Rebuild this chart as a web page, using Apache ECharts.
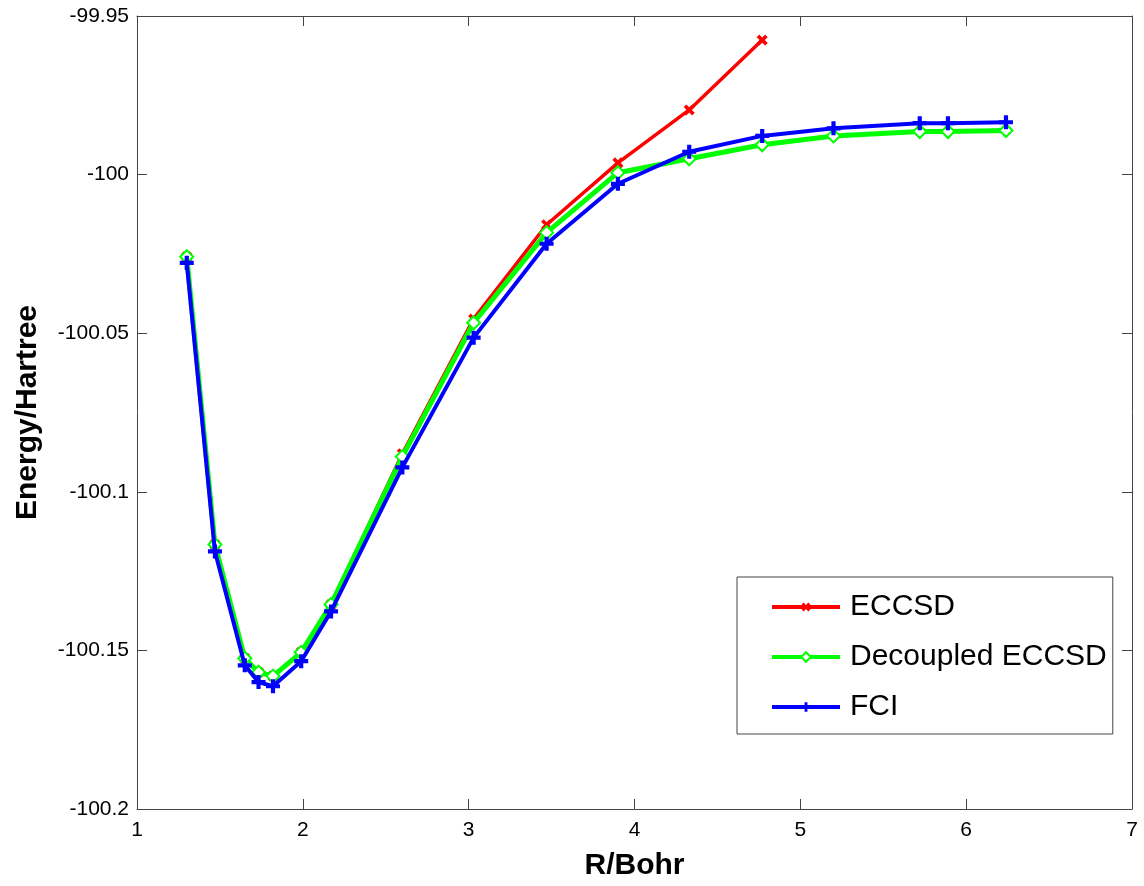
<!DOCTYPE html>
<html>
<head>
<meta charset="utf-8">
<script src="https://cdn.jsdelivr.net/npm/echarts@6/dist/echarts.min.js"></script>
<style>
  html, body { margin: 0; padding: 0; background: #fff; }
  #chart { width: 1144px; height: 886px; }
</style>
</head>
<body>
<div id="chart"></div>
<script>
// Bond distances (Bohr)
const rBohr = [1.30, 1.47, 1.65, 1.733, 1.82, 1.99, 2.17, 2.60, 3.03, 3.47, 3.90, 4.33, 4.77, 5.20, 5.72, 5.89, 6.24];
// ECCSD (first 13 distances only)
const eccsd = [-100.0259, -100.1166, -100.1525, -100.1569, -100.1581, -100.1506, -100.1355, -100.0880, -100.0455, -100.0158, -99.9963, -99.9796, -99.9576];
// Decoupled ECCSD
const decoupled = [-100.0259, -100.1166, -100.1525, -100.1569, -100.1581, -100.1506, -100.1355, -100.0889, -100.0467, -100.0183, -99.9994, -99.9950, -99.9906, -99.9878, -99.9864, -99.9864, -99.9861];
// FCI
const fci = [-100.0278, -100.1188, -100.1547, -100.1600, -100.1613, -100.1534, -100.1377, -100.0923, -100.0514, -100.0218, -100.0029, -99.9928, -99.9878, -99.9854, -99.9838, -99.9838, -99.9835];

const seriesNames = ['ECCSD', 'Decoupled ECCSD', 'FCI'];
const xTicks = { min: 1, max: 7, interval: 1 };
const yTicks = { min: -100.2, max: -99.95, interval: 0.05 };

function pairs(xs, ys) { return ys.map((y, i) => [xs[i], y]); }

const plusPath = 'path://M3.5,0H6.5V3.5H10V6.5H6.5V10H3.5V6.5H0V3.5H3.5Z';
const axisColor = '#444';
const fontFam = '"Liberation Sans", Arial, Helvetica, sans-serif';

const chart = echarts.init(document.getElementById('chart'));
chart.setOption({
  animation: false,
  backgroundColor: '#fff',
  grid: { left: 137, right: 12, top: 16, bottom: 76, containLabel: false },
  legend: {
    orient: 'vertical',
    left: 737, top: 577,
    padding: [15, 6, 12, 33],
    itemWidth: 68, itemHeight: 12, itemGap: 20,
    backgroundColor: '#fff',
    borderColor: '#444', borderWidth: 1,
    data: seriesNames,
    lineStyle: { width: 4 },
    textStyle: { fontFamily: fontFam, fontSize: 30, color: '#000', lineHeight: 30, padding: [0, 0, 0, 5] }
  },
  xAxis: [{
    type: 'value', position: 'bottom', min: xTicks.min, max: xTicks.max, interval: xTicks.interval,
    name: 'R/Bohr', nameLocation: 'middle', nameGap: 42,
    nameTextStyle: { fontFamily: fontFam, fontSize: 30, fontWeight: 'bold', color: '#000' },
    axisLine: { lineStyle: { color: axisColor, width: 1 } },
    axisTick: { inside: true, length: 10, lineStyle: { color: axisColor } },
    axisLabel: { fontFamily: fontFam, fontSize: 21, color: '#000', margin: 11 },
    splitLine: { show: false }
  }, {
    type: 'value', position: 'top', min: xTicks.min, max: xTicks.max, interval: xTicks.interval,
    axisLine: { lineStyle: { color: axisColor, width: 1 } },
    axisTick: { inside: true, length: 10, lineStyle: { color: axisColor } },
    axisLabel: { show: false },
    splitLine: { show: false }
  }],
  yAxis: [{
    type: 'value', position: 'left', min: yTicks.min, max: yTicks.max, interval: yTicks.interval,
    name: 'Energy/Hartree', nameLocation: 'middle', nameGap: 94,
    nameTextStyle: { fontFamily: fontFam, fontSize: 30, fontWeight: 'bold', color: '#000' },
    axisLine: { show: true, lineStyle: { color: axisColor, width: 1 } },
    axisTick: { show: true, inside: true, length: 10, lineStyle: { color: axisColor } },
    axisLabel: { fontFamily: fontFam, fontSize: 21, color: '#000', margin: 8,
      formatter: v => String(Math.round(v * 100) / 100) },
    splitLine: { show: false }
  }, {
    type: 'value', position: 'right', min: yTicks.min, max: yTicks.max, interval: yTicks.interval,
    axisLine: { show: true, lineStyle: { color: axisColor, width: 1 } },
    axisTick: { show: true, inside: true, length: 10, lineStyle: { color: axisColor } },
    axisLabel: { show: false },
    splitLine: { show: false }
  }],
  series: [{
    name: seriesNames[0], type: 'line', xAxisIndex: 0, yAxisIndex: 0,
    data: pairs(rBohr, eccsd),
    symbol: plusPath, symbolSize: 12, symbolRotate: 45, showAllSymbol: true,
    lineStyle: { color: '#ff0000', width: 3.5 },
    itemStyle: { color: '#ff0000' },
    z: 2
  }, {
    name: seriesNames[1], type: 'line', xAxisIndex: 0, yAxisIndex: 0,
    data: pairs(rBohr, decoupled),
    symbol: 'emptyDiamond', symbolSize: 13, showAllSymbol: true,
    lineStyle: { color: '#00ff00', width: 5 },
    itemStyle: { color: '#00ff00', borderColor: '#00ff00', borderWidth: 3.5 },
    z: 3
  }, {
    name: seriesNames[2], type: 'line', xAxisIndex: 0, yAxisIndex: 0,
    data: pairs(rBohr, fci),
    symbol: plusPath, symbolSize: 14, showAllSymbol: true,
    lineStyle: { color: '#0000ff', width: 4 },
    itemStyle: { color: '#0000ff' },
    z: 4
  }]
});
</script>
</body>
</html>
